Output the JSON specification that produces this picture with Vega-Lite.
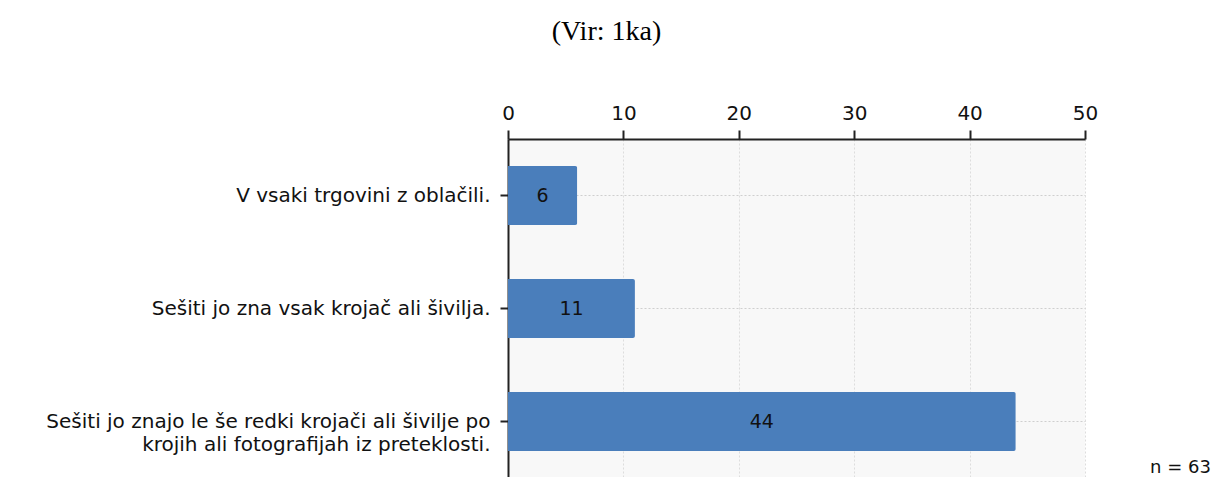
{
  "$schema": "https://vega.github.io/schema/vega-lite/v6.json",
  "width": 577,
  "height": 339,
  "autosize": {"type": "none"},
  "padding": {"left": 508, "top": 139, "right": 136, "bottom": 0},
  "background": "white",
  "title": {
    "text": "(Vir: 1ka)",
    "font": "Liberation Serif",
    "fontSize": 28,
    "fontWeight": "normal",
    "color": "#000000",
    "anchor": "middle",
    "dx": -190,
    "offset": 57
  },
  "config": {
    "view": {"fill": "#f8f8f8", "stroke": null},
    "axis": {"labelFont": "DejaVu Sans", "labelColor": "#111111", "domainColor": "#222222", "tickColor": "#222222"}
  },
  "data": {
    "values": [
      {"answer": "V vsaki trgovini z oblačili.", "count": 6},
      {"answer": "Sešiti jo zna vsak krojač ali šivilja.", "count": 11},
      {"answer": "Sešiti jo znajo le še redki krojači ali šivilje po|krojih ali fotografijah iz preteklosti.", "count": 44}
    ]
  },
  "encoding": {
    "y": {
      "field": "answer",
      "type": "nominal",
      "sort": ["V vsaki trgovini z oblačili.", "Sešiti jo zna vsak krojač ali šivilja.", "Sešiti jo znajo le še redki krojači ali šivilje po|krojih ali fotografijah iz preteklosti."],
      "scale": {"paddingInner": 0.48, "paddingOuter": 0.24},
      "axis": {
        "title": null,
        "labelExpr": "split(datum.label, '|')",
        "labelFontSize": 20,
        "labelLimit": 600,
        "labelLineHeight": 23,
        "labelPadding": 10,
        "tickSize": 8,
        "tickWidth": 2,
        "grid": true,
        "gridColor": "#cfcfcf",
        "gridDash": [2, 2],
        "domainWidth": 2
      }
    }
  },
  "layer": [
    {
      "mark": {"type": "bar", "color": "#4a7ebb", "cornerRadiusEnd": 2},
      "encoding": {
        "x": {
          "field": "count",
          "type": "quantitative",
          "scale": {"domain": [0, 50]},
          "axis": {
            "orient": "top",
            "title": null,
            "values": [0, 10, 20, 30, 40, 50],
            "labelFontSize": 20,
            "labelPadding": 7,
            "tickSize": 9,
            "domainWidth": 2,
            "tickWidth": 2,
            "grid": true,
            "gridColor": "#dddddd",
            "gridDash": [2, 2],
            "labelFlush": false
          }
        }
      }
    },
    {
      "mark": {"type": "text", "fontSize": 19, "font": "DejaVu Sans", "color": "#111111"},
      "transform": [{"calculate": "datum.count / 2", "as": "mid"}],
      "encoding": {
        "x": {"field": "mid", "type": "quantitative"},
        "text": {"field": "count", "type": "quantitative"}
      }
    },
    {
      "data": {"values": [{"note": "n = 63"}]},
      "mark": {"type": "text", "fontSize": 18, "font": "DejaVu Sans", "color": "#111111", "align": "left", "baseline": "middle", "dx": 65, "dy": 46},
      "encoding": {
        "x": {"datum": 50},
        "y": {"datum": "Sešiti jo znajo le še redki krojači ali šivilje po|krojih ali fotografijah iz preteklosti."},
        "text": {"field": "note"}
      }
    }
  ]
}
